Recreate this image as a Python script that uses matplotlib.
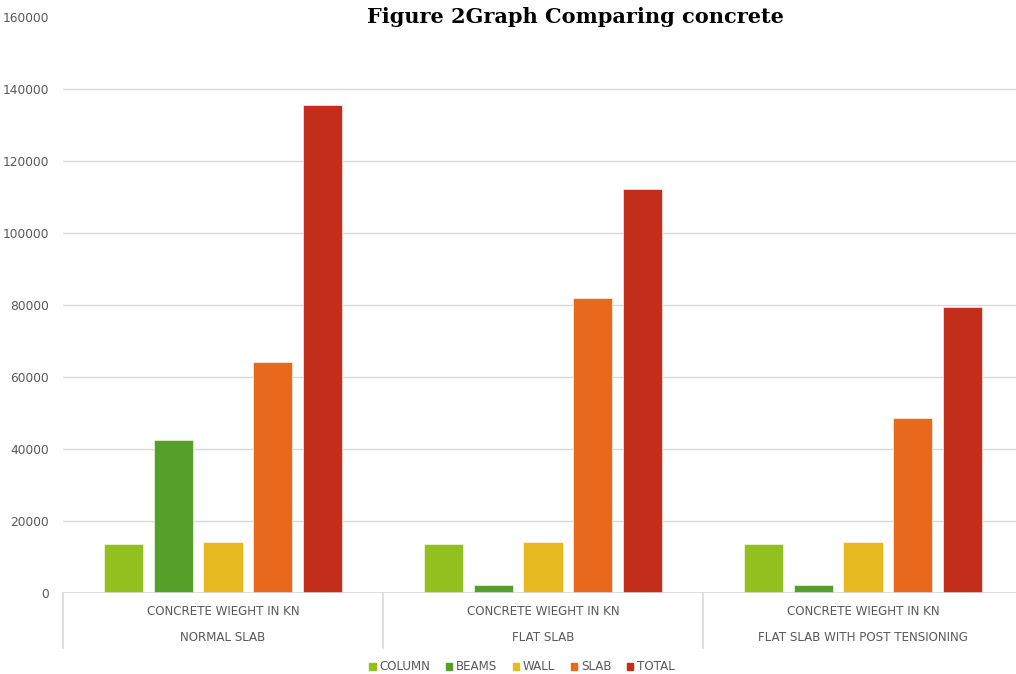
import matplotlib
matplotlib.use("Agg")
import matplotlib.pyplot as plt
import numpy as np
from matplotlib.lines import Line2D

categories_top = ["CONCRETE WIEGHT IN KN", "CONCRETE WIEGHT IN KN", "CONCRETE WIEGHT IN KN"]
categories = ["NORMAL SLAB", "FLAT SLAB", "FLAT SLAB WITH POST TENSIONING"]
series_names = ["COLUMN", "BEAMS", "WALL", "SLAB", "TOTAL"]
column = [13500, 13500, 13500]
beams = [42500, 2200, 2200]
wall = [14300, 14300, 14300]
slab = [64300, 81900, 48700]
total = [135700, 112400, 79400]
yticks = [0, 20000, 40000, 60000, 80000, 100000, 120000, 140000, 160000]
title = "Figure 2Graph Comparing concrete"

colors = ["#93C01F", "#56A02A", "#E5B91F", "#E8691B", "#C32E1A"]
series = [column, beams, wall, slab, total]

W, H = 1016, 674
fig = plt.figure(figsize=(W / 100, H / 100), dpi=100)
left_px, right_px, top_px, bot_px = 63, 1016, 17.5, 593
ax = fig.add_axes([left_px / W, 1 - bot_px / H, (right_px - left_px) / W, (bot_px - top_px) / H])

x = np.arange(len(categories))
step = 0.155
bw = 0.123
for i, (vals, c) in enumerate(zip(series, colors)):
    ax.bar(x + (i - 2) * step, vals, width=bw, color=c, zorder=3,
           edgecolor="white", linewidth=0.4, label=series_names[i])

ax.set_ylim(0, 160000)
ax.set_xlim(-0.5, -0.5 + (right_px - left_px) / 320)
for yv in yticks[1:-1]:
    ax.axhline(yv, color="#D9D9D9", linewidth=1.0, zorder=1)
ax.axhline(0, color="#D9D9D9", linewidth=1.2, zorder=4)

ax.set_yticks(yticks)
ax.set_yticklabels([str(v) for v in yticks], color="#595959", fontsize=8.8)
ax.tick_params(axis="y", length=0, pad=10)
ax.set_xticks([])
for s in ax.spines.values():
    s.set_visible(False)

# category labels and separators
for i in range(len(categories)):
    ax.text(i, -0.033, categories_top[i], transform=ax.get_xaxis_transform(),
            ha="center", va="center", fontsize=8.6, color="#595959")
    ax.text(i, -0.078, categories[i], transform=ax.get_xaxis_transform(),
            ha="center", va="center", fontsize=8.6, color="#595959")
for b in [-0.5, 0.5, 1.5]:
    ax.add_line(Line2D([b, b], [0, -0.096], transform=ax.get_xaxis_transform(),
                       color="#D9D9D9", linewidth=1.2, clip_on=False))

fig.text(575 / W, 1 - 17 / H, title, ha="center", va="center",
         fontsize=15, fontweight="bold", family="DejaVu Serif", color="black")

handles = [plt.Rectangle((0, 0), 1, 1, color=c) for c in colors]
fig.legend(handles, series_names, loc="center", bbox_to_anchor=(522 / W, 1 - 667 / H),
           ncol=5, frameon=False, fontsize=8.6, labelcolor="#595959",
           handlelength=0.55, handleheight=0.55, handletextpad=0.3, columnspacing=1.3)

fig.savefig("out.png", dpi=100, facecolor="white")
